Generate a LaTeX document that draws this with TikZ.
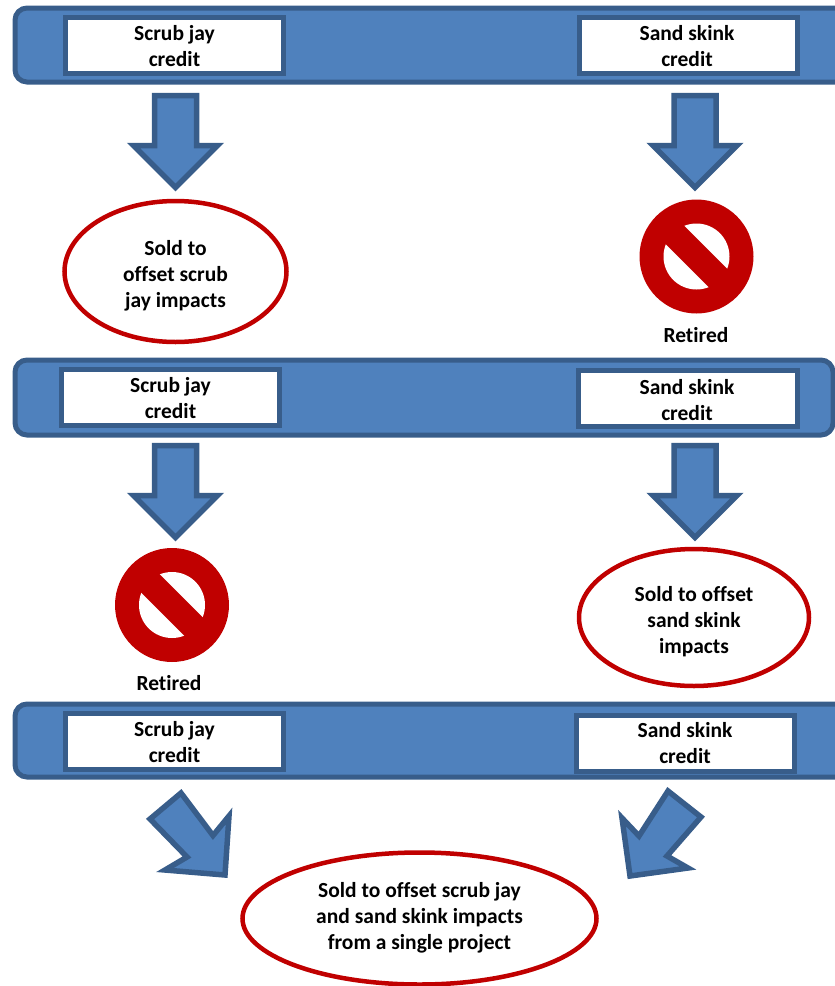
\documentclass[tikz,border=0pt]{standalone}
\usepackage{fontspec}
\setmainfont{Carlito}[Ligatures=CommonOff]
\usepackage{xcolor}
\usetikzlibrary{calc}
\definecolor{barblue}{HTML}{4F81BD}
\definecolor{bardark}{HTML}{385D8A}
\definecolor{stopred}{HTML}{C00000}
\tikzset{
  barbox/.style={draw=bardark, line width=5pt, fill=barblue, rounded corners=12pt},
  creditbox/.style={draw=bardark, line width=5pt, fill=white},
  blockarrow/.style={draw=bardark, line width=5.5pt, fill=barblue, miter limit=10},
  saleoval/.style={draw=stopred, line width=4.5pt, fill=white},
  boldtext/.style={font=\fontsize{21.5pt}{26pt}\selectfont\bfseries, align=center, inner sep=0pt}
}
\newcommand{\downblock}[2]{\filldraw [blockarrow] (#1-21,#2) -- (#1+21,#2) -- (#1+21,#2+50) -- (#1+42,#2+50) -- (#1,#2+92) -- (#1-42,#2+50) -- (#1-21,#2+50) -- cycle;}
\newcommand{\stopsign}[2]{\fill [stopred] (#1,#2) circle (57);
\fill [white] (#1,#2) circle (33);
\draw [stopred, line width=26pt] ($(#1,#2)+(-38,-38)$) -- ($(#1,#2)+(38,38)$);}
\begin{document}
\begin{tikzpicture}[x=1pt,y=-1pt]
\useasboundingbox (0,0) rectangle (835,986);

% first row
\filldraw [barbox] (15,8) rectangle (850,82);
\filldraw [creditbox] (65.5,17.5) rectangle (283.5,73.5);
\filldraw [creditbox] (579.5,17.5) rectangle (797.5,73.5);
\node [boldtext] (jaycreditone) at (174.5,46.5) {Scrub jay\\credit};
\node [boldtext] (skinkcreditone) at (687,46.5) {Sand skink\\credit};
\downblock{175.5}{95.5}
\downblock{695}{95.5}
\filldraw [saleoval] (175.5,271.5) ellipse (111 and 70.5);
\node [boldtext] (saleone) at (175.5,275.5) {Sold to\\offset scrub\\jay impacts};
\stopsign{696.5}{256.5}
\node [boldtext] (retiredone) at (696,335.5) {Retired};

% second row
\filldraw [barbox] (15,360) rectangle (833,435);
\filldraw [creditbox] (61.5,369.5) rectangle (279.5,425.5);
\filldraw [creditbox] (578.5,370.5) rectangle (797.5,426.5);
\node [boldtext] (jaycredittwo) at (170.5,398.5) {Scrub jay\\credit};
\node [boldtext] (skinkcredittwo) at (687,400.5) {Sand skink\\credit};
\downblock{175.5}{445.5}
\downblock{695}{445.5}
\stopsign{172}{605}
\node [boldtext] (retiredtwo) at (169,683.5) {Retired};
\filldraw [saleoval] (694,617.5) ellipse (115 and 68.5);
\node [boldtext] (saletwo) at (694,622) {Sold to offset\\sand skink\\impacts};

% third row
\filldraw [barbox] (15,704) rectangle (850,777);
\filldraw [creditbox] (65.5,713.5) rectangle (283.5,769.5);
\filldraw [creditbox] (576.5,715.5) rectangle (794.5,771.5);
\node [boldtext] (jaycreditthree) at (174.5,742.5) {Scrub jay\\credit};
\node [boldtext] (skinkcreditthree) at (685,743.5) {Sand skink\\credit};
\filldraw [blockarrow] (181,793) -- (213,835.5) -- (229,816) -- (225,875) -- (165,870) -- (187,857) -- (150,819) -- cycle;
\filldraw [blockarrow] (668,791) -- (639,836) -- (622,818) -- (630,876) -- (688,868) -- (667,856) -- (701,817) -- cycle;
\filldraw [saleoval] (419.5,918.5) ellipse (177 and 66);
\node [boldtext] (salethree) at (419.5,917.5) {Sold to offset scrub jay\\and sand skink impacts\\from a single project};

\end{tikzpicture}
\end{document}
